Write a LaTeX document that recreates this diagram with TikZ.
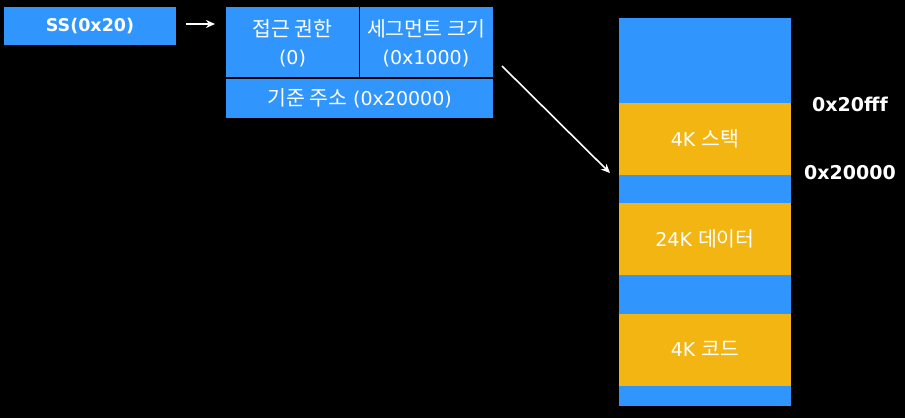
\documentclass[tikz,border=0pt]{standalone}
\usepackage{fontspec}
\setmainfont{DejaVu Sans}
\newfontfamily\kr{Noto Sans CJK KR}
\usetikzlibrary{arrows.meta}
\begin{document}
\begin{tikzpicture}[x=1pt,y=-1pt,
  bluebox/.style={fill=segblue,draw=none},
  yellowbox/.style={fill=segyellow,draw=none},
  lbl/.style={text=white,font=\fontsize{19}{23}\selectfont,inner sep=0pt,anchor=center},
  blbl/.style={text=white,font=\fontsize{19}{22}\selectfont\bfseries,inner sep=0pt},
  selbl/.style={text=white,font=\fontsize{17.5}{21}\selectfont\bfseries,inner sep=0pt},
  arr/.style={white,line width=1.6pt,-{Stealth[length=9pt,width=8pt]}}]
\definecolor{segblue}{HTML}{3096FE}
\definecolor{segyellow}{HTML}{F2B512}
\newcommand{\ko}[1]{{\kr\fontsize{20.5}{24}\selectfont #1}}
\fill[black] (0,0) rectangle (905,418);
\useasboundingbox (0,0) rectangle (905,418);
% selector
\fill[bluebox] (4,7) rectangle (176,45);
\node[selbl] (ss) at (90,26) {SS(0x20)};
\coordinate (ssend) at (186,24);
\coordinate (descstart) at (215,24);
% descriptor
\fill[bluebox] (226,7) rectangle (493,118);
\draw[black,line width=1.2pt] (359.5,7) -- (359.5,78);
\draw[black,line width=1.2pt] (226,78) -- (493,78);
\node[lbl] (acc) at (292.5,29) {\ko{접근 권한}};
\node[lbl] (accv) at (292.5,59) {(0)};
\node[lbl] (size) at (426,29) {\ko{세그먼트 크기}};
\node[lbl] (sizev) at (426,59) {(0x1000)};
\node[lbl] (base) at (359.5,98) {\ko{기준 주소} (0x20000)};
\draw[arr] (ssend) -- (descstart);
% memory
\fill[bluebox] (619,18) rectangle (791,406);
\fill[yellowbox] (619,103) rectangle (791,175);
\fill[yellowbox] (619,203) rectangle (791,275);
\fill[yellowbox] (619,314) rectangle (791,386);
\node[lbl] (stack) at (705,139) {4K \ko{스택}};
\node[lbl] (data) at (705,239) {24K \ko{데이터}};
\node[lbl] (code) at (705,349) {4K \ko{코드}};
\node[blbl] (top) at (850,104) {0x20fff};
\node[blbl] (bot) at (850,173) {0x20000};
\coordinate (ds) at (502,66);
\coordinate (de) at (610,173);
\draw[arr] (ds) -- (de);
\end{tikzpicture}
\end{document}
